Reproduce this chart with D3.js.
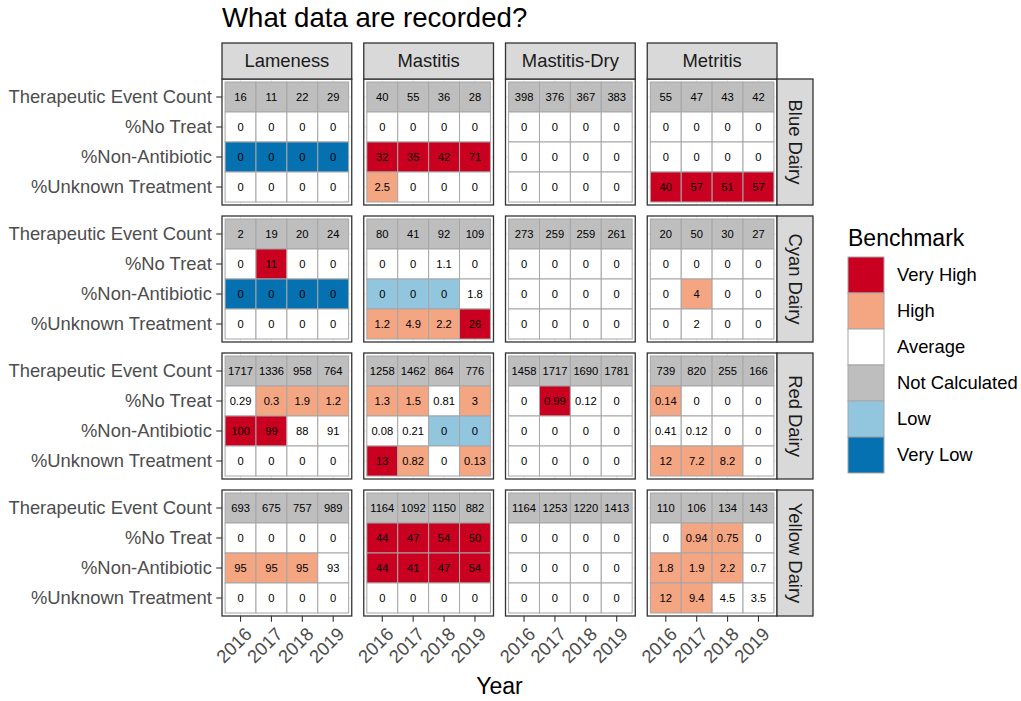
<!DOCTYPE html>
<html><head><meta charset="utf-8">
<script src="https://cdn.jsdelivr.net/npm/d3@7"></script>
<style>body{margin:0;background:#fff}svg{display:block;font-family:"Liberation Sans",Arial,sans-serif}</style>
</head><body><svg id="chart" width="1021" height="701"></svg>
<script>
// ---- data ----
const years = ["2016", "2017", "2018", "2019"];
const diseases = ["Lameness", "Mastitis", "Mastitis-Dry", "Metritis"];
const dairies = ["Blue Dairy", "Cyan Dairy", "Red Dairy", "Yellow Dairy"];
const metrics = ["Therapeutic Event Count", "%No Treat", "%Non-Antibiotic", "%Unknown Treatment"];
const benchmarkLevels = ["Very High", "High", "Average", "Not Calculated", "Low", "Very Low"];
const benchmarkColors = ["#CA0020", "#F4A582", "#FFFFFF", "#BEBEBE", "#92C5DE", "#0571B0"];
const benchmarkCodes = ["VH", "H", "A", "NC", "L", "VL"];

// values[dairy][disease][metric][year]
const blueValues = [
  [[16, 11, 22, 29], [0, 0, 0, 0], [0, 0, 0, 0], [0, 0, 0, 0]],
  [[40, 55, 36, 28], [0, 0, 0, 0], [32, 35, 42, 71], [2.5, 0, 0, 0]],
  [[398, 376, 367, 383], [0, 0, 0, 0], [0, 0, 0, 0], [0, 0, 0, 0]],
  [[55, 47, 43, 42], [0, 0, 0, 0], [0, 0, 0, 0], [40, 57, 51, 57]]
];
const blueBench = [
  [["NC","NC","NC","NC"], ["A","A","A","A"], ["VL","VL","VL","VL"], ["A","A","A","A"]],
  [["NC","NC","NC","NC"], ["A","A","A","A"], ["VH","VH","VH","VH"], ["H","A","A","A"]],
  [["NC","NC","NC","NC"], ["A","A","A","A"], ["A","A","A","A"], ["A","A","A","A"]],
  [["NC","NC","NC","NC"], ["A","A","A","A"], ["A","A","A","A"], ["VH","VH","VH","VH"]]
];
const cyanValues = [
  [[2, 19, 20, 24], [0, 11, 0, 0], [0, 0, 0, 0], [0, 0, 0, 0]],
  [[80, 41, 92, 109], [0, 0, 1.1, 0], [0, 0, 0, 1.8], [1.2, 4.9, 2.2, 26]],
  [[273, 259, 259, 261], [0, 0, 0, 0], [0, 0, 0, 0], [0, 0, 0, 0]],
  [[20, 50, 30, 27], [0, 0, 0, 0], [0, 4, 0, 0], [0, 2, 0, 0]]
];
const cyanBench = [
  [["NC","NC","NC","NC"], ["A","VH","A","A"], ["VL","VL","VL","VL"], ["A","A","A","A"]],
  [["NC","NC","NC","NC"], ["A","A","A","A"], ["L","L","L","A"], ["H","H","H","VH"]],
  [["NC","NC","NC","NC"], ["A","A","A","A"], ["A","A","A","A"], ["A","A","A","A"]],
  [["NC","NC","NC","NC"], ["A","A","A","A"], ["A","H","A","A"], ["A","A","A","A"]]
];
const redValues = [
  [[1717, 1336, 958, 764], [0.29, 0.3, 1.9, 1.2], [100, 99, 88, 91], [0, 0, 0, 0]],
  [[1258, 1462, 864, 776], [1.3, 1.5, 0.81, 3], [0.08, 0.21, 0, 0], [13, 0.82, 0, 0.13]],
  [[1458, 1717, 1690, 1781], [0, 0.99, 0.12, 0], [0, 0, 0, 0], [0, 0, 0, 0]],
  [[739, 820, 255, 166], [0.14, 0, 0, 0], [0.41, 0.12, 0, 0], [12, 7.2, 8.2, 0]]
];
const redBench = [
  [["NC","NC","NC","NC"], ["A","H","H","H"], ["VH","VH","A","A"], ["A","A","A","A"]],
  [["NC","NC","NC","NC"], ["H","H","A","H"], ["A","A","L","L"], ["VH","H","A","H"]],
  [["NC","NC","NC","NC"], ["A","VH","A","A"], ["A","A","A","A"], ["A","A","A","A"]],
  [["NC","NC","NC","NC"], ["H","A","A","A"], ["A","A","A","A"], ["H","H","H","A"]]
];
const yellowValues = [
  [[693, 675, 757, 989], [0, 0, 0, 0], [95, 95, 95, 93], [0, 0, 0, 0]],
  [[1164, 1092, 1150, 882], [44, 47, 54, 50], [44, 41, 47, 54], [0, 0, 0, 0]],
  [[1164, 1253, 1220, 1413], [0, 0, 0, 0], [0, 0, 0, 0], [0, 0, 0, 0]],
  [[110, 106, 134, 143], [0, 0.94, 0.75, 0], [1.8, 1.9, 2.2, 0.7], [12, 9.4, 4.5, 3.5]]
];
const yellowBench = [
  [["NC","NC","NC","NC"], ["A","A","A","A"], ["H","H","H","A"], ["A","A","A","A"]],
  [["NC","NC","NC","NC"], ["VH","VH","VH","VH"], ["VH","VH","VH","VH"], ["A","A","A","A"]],
  [["NC","NC","NC","NC"], ["A","A","A","A"], ["A","A","A","A"], ["A","A","A","A"]],
  [["NC","NC","NC","NC"], ["A","H","H","A"], ["H","H","H","A"], ["H","H","A","A"]]
];
const allValues = [blueValues, cyanValues, redValues, yellowValues];
const allBench = [blueBench, cyanBench, redBench, yellowBench];

// ---- build tidy records ----
const records = [];
dairies.forEach((dairy, di) => diseases.forEach((dis, si) => metrics.forEach((m, mi) => years.forEach((y, yi) => {
  records.push({dairy, disease: dis, metric: m, year: y,
    value: allValues[di][si][mi][yi],
    bench: benchmarkLevels[benchmarkCodes.indexOf(allBench[di][si][mi][yi])]});
}))));

// ---- layout ----
const svg = d3.select("#chart");
const plotL = 222, plotR = 777, plotT = 79, plotB = 616;
const colGap = 12, rowGap = 11;
const stripH = 36, stripW = 36;
const panelW = (plotR - plotL - 3 * colGap) / 4;
const panelH = (plotB - plotT - 3 * rowGap) / 4;
const fs = 18.4;

const color = d3.scaleOrdinal().domain(benchmarkLevels).range(benchmarkColors);
const x = d3.scaleBand().domain(years).range([0, panelW]).paddingInner(0).paddingOuter(0.1);
const y = d3.scaleBand().domain(metrics).range([0, panelH]).paddingInner(0).paddingOuter(0.1);

// title
svg.append("text").attr("x", plotL).attr("y", 27).attr("font-size", 27.6).attr("fill", "#000")
  .text("What data are recorded?");

dairies.forEach((dairy, di) => {
  diseases.forEach((dis, si) => {
    const px = plotL + si * (panelW + colGap);
    const py = plotT + di * (panelH + rowGap);
    const g = svg.append("g").attr("transform", `translate(${px},${py})`);
    // grid
    g.selectAll(".gx").data(years).join("line")
      .attr("x1", d => x(d) + x.bandwidth() / 2).attr("x2", d => x(d) + x.bandwidth() / 2)
      .attr("y1", 0).attr("y2", panelH).attr("stroke", "#EBEBEB").attr("stroke-width", 1);
    g.selectAll(".gy").data(metrics).join("line")
      .attr("y1", d => y(d) + y.bandwidth() / 2).attr("y2", d => y(d) + y.bandwidth() / 2)
      .attr("x1", 0).attr("x2", panelW).attr("stroke", "#EBEBEB").attr("stroke-width", 1);
    const recs = records.filter(r => r.dairy === dairy && r.disease === dis);
    g.selectAll(".tile").data(recs).join("rect")
      .attr("x", d => x(d.year)).attr("y", d => y(d.metric))
      .attr("width", x.bandwidth()).attr("height", y.bandwidth())
      .attr("fill", d => color(d.bench)).attr("stroke", "#A6A6A6").attr("stroke-width", 1);
    g.selectAll(".lbl").data(recs).join("text")
      .attr("x", d => x(d.year) + x.bandwidth() / 2).attr("y", d => y(d.metric) + y.bandwidth() / 2)
      .attr("dy", "0.36em").attr("text-anchor", "middle").attr("font-size", 11.2).attr("fill", "#000")
      .text(d => String(d.value));
    // border
    g.append("rect").attr("width", panelW).attr("height", panelH)
      .attr("fill", "none").attr("stroke", "#333333").attr("stroke-width", 1.3);

    if (si === 0) {
      const ax = g.append("g").call(d3.axisLeft(y).tickSize(5.75).tickPadding(4.4));
      ax.select(".domain").remove();
      ax.selectAll("line").attr("stroke", "#333333").attr("stroke-width", 1.1);
      ax.selectAll("text").attr("font-size", fs).attr("fill", "#4D4D4D")
        .attr("font-family", '"Liberation Sans",Arial,sans-serif');
    }
    if (di === dairies.length - 1) {
      const ax = g.append("g").attr("transform", `translate(0,${panelH})`)
        .call(d3.axisBottom(x).tickSize(5.75).tickPadding(2));
      ax.select(".domain").remove();
      ax.selectAll("line").attr("stroke", "#333333").attr("stroke-width", 1.1);
      ax.selectAll("text").attr("font-size", fs).attr("fill", "#4D4D4D")
        .attr("font-family", '"Liberation Sans",Arial,sans-serif')
        .attr("y", 0).attr("dy", "0.72em").attr("text-anchor", "end")
        .attr("transform", "translate(3,10) rotate(-45)");
    }
    if (di === 0) {
      const s = svg.append("g").attr("transform", `translate(${px},${plotT - stripH})`);
      s.append("rect").attr("width", panelW).attr("height", stripH)
        .attr("fill", "#D9D9D9").attr("stroke", "#333333").attr("stroke-width", 1.3);
      s.append("text").attr("x", panelW / 2).attr("y", stripH / 2).attr("dy", "0.35em")
        .attr("text-anchor", "middle").attr("font-size", fs).attr("fill", "#1A1A1A").text(dis);
    }
    if (si === diseases.length - 1) {
      const s = svg.append("g").attr("transform", `translate(${px + panelW},${py})`);
      s.append("rect").attr("width", stripW).attr("height", panelH)
        .attr("fill", "#D9D9D9").attr("stroke", "#333333").attr("stroke-width", 1.3);
      s.append("text").attr("transform", `translate(${stripW / 2},${panelH / 2}) rotate(90)`)
        .attr("dy", "0.35em").attr("text-anchor", "middle").attr("font-size", fs)
        .attr("fill", "#1A1A1A").text(dairy);
    }
  });
});

// x axis title
svg.append("text").attr("x", (plotL + plotR) / 2).attr("y", 694).attr("text-anchor", "middle")
  .attr("font-size", 23).attr("fill", "#000").text("Year");

// legend
const lg = svg.append("g").attr("transform", "translate(848,0)");
lg.append("text").attr("x", 0).attr("y", 246).attr("font-size", 23).attr("fill", "#000").text("Benchmark");
const ly = d3.scaleBand().domain(benchmarkLevels).range([257, 257 + 36 * 6]);
lg.selectAll(".key").data(benchmarkLevels).join("rect")
  .attr("x", 0).attr("y", d => ly(d)).attr("width", 36).attr("height", ly.bandwidth())
  .attr("fill", d => color(d)).attr("stroke", "#A6A6A6").attr("stroke-width", 1);
lg.selectAll(".klbl").data(benchmarkLevels).join("text")
  .attr("x", 49).attr("y", d => ly(d) + ly.bandwidth() / 2).attr("dy", "0.35em")
  .attr("font-size", fs).attr("fill", "#000").text(d => d);
</script></body></html>
